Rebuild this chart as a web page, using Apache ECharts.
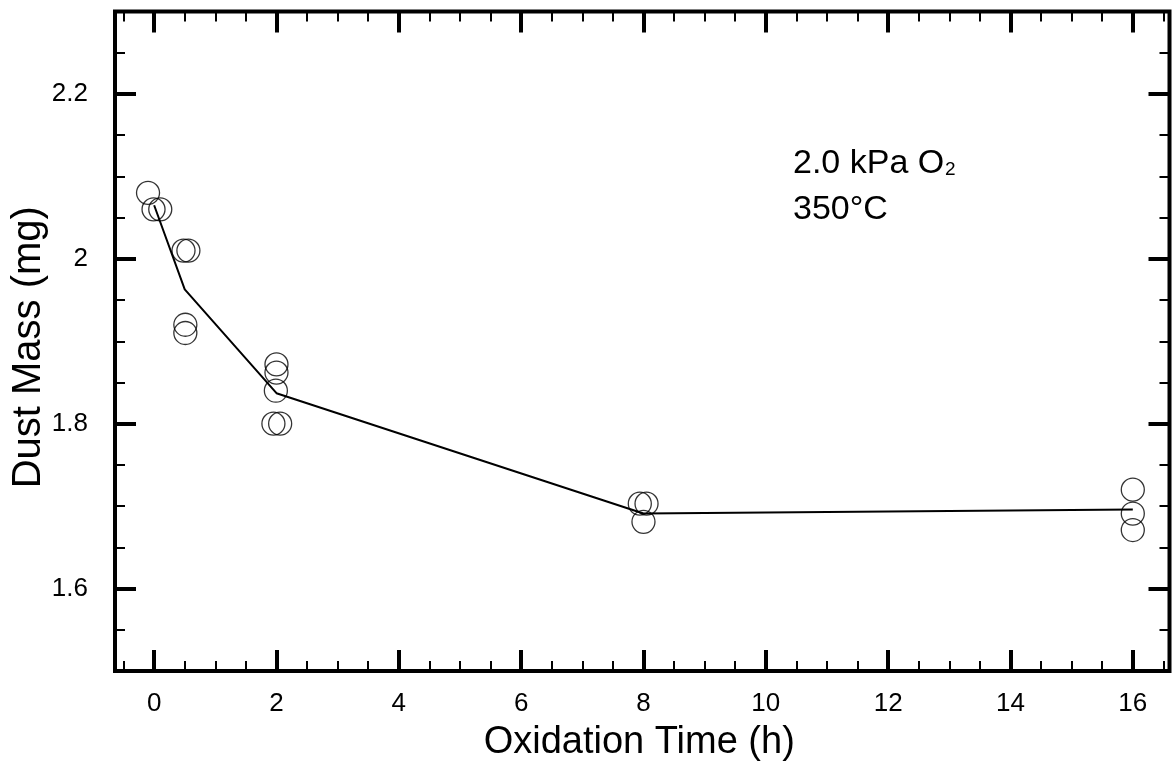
<!DOCTYPE html>
<html>
<head>
<meta charset="utf-8">
<script src="https://cdn.jsdelivr.net/npm/echarts@6/dist/echarts.min.js"></script>
<style>
  html, body { margin: 0; padding: 0; background: #fff; }
  #chart { width: 1172px; height: 773px; }
</style>
</head>
<body>
<div id="chart"></div>
<script>
// measured samples (time in h, small x offsets as plotted)
const sampleTimes = [-0.1, -0.01, 0.1, 0.48, 0.56, 0.51, 0.51, 2.0, 2.0, 1.99, 1.95, 2.06, 7.94, 8.05, 8.0, 16.0, 16.0, 16.0]
const sampleMass = [2.08, 2.06, 2.06, 2.01, 2.01, 1.92, 1.91, 1.872, 1.862, 1.84, 1.80, 1.80, 1.703, 1.703, 1.681, 1.72, 1.691, 1.671]

// fitted curve
const fitTimes = [0, 0.5, 2, 8, 16]
const fitMass = [2.065, 1.963, 1.837, 1.691, 1.696]

const xMajorTicks = [0, 2, 4, 6, 8, 10, 12, 14, 16]
const xMinorTicks = [-0.5, 0.5, 1, 1.5, 2.5, 3, 3.5, 4.5, 5, 5.5, 6.5, 7, 7.5, 8.5, 9, 9.5,
  10.5, 11, 11.5, 12.5, 13, 13.5, 14.5, 15, 15.5, 16.5]
const yMajorTicks = [1.6, 1.8, 2.0, 2.2]
const yMinorTicks = [1.55, 1.65, 1.7, 1.75, 1.85, 1.9, 1.95, 2.05, 2.1, 2.15, 2.25]

const FONT = 'Liberation Sans, Arial, Helvetica, sans-serif'
const X_MIN = -0.64, X_MAX = 16.6
const Y_MIN = 1.5, Y_MAX = 2.3

const chart = echarts.init(document.getElementById('chart'))

function axisDef(position, min, max, ticks, len, width, labelMargin) {
  return {
    type: 'value',
    position,
    offset: 0,
    min,
    max,
    axisLine: { show: false, onZero: false },
    splitLine: { show: false },
    axisTick: {
      show: true,
      inside: true,
      length: len,
      customValues: ticks,
      lineStyle: { color: '#000', width },
    },
    axisLabel: labelMargin != null
      ? { show: true, customValues: ticks, margin: labelMargin, color: '#000', fontSize: 26, fontFamily: FONT }
      : { show: false },
  }
}

const xAxes = [
  axisDef('bottom', X_MIN, X_MAX, xMajorTicks, 21, 4, 20),
  axisDef('bottom', X_MIN, X_MAX, xMinorTicks, 10, 2),
  axisDef('top', X_MIN, X_MAX, xMajorTicks, 21, 4),
  axisDef('top', X_MIN, X_MAX, xMinorTicks, 10, 2),
]
Object.assign(xAxes[0], {
  name: 'Oxidation Time (h)',
  nameLocation: 'middle',
  nameGap: 53,
  nameMoveOverlap: false,
  nameTextStyle: { color: '#000', fontSize: 38, fontFamily: FONT, padding: [0, 6, 0, 0] },
})

const yAxes = [
  axisDef('left', Y_MIN, Y_MAX, yMajorTicks, 21, 4, 27),
  axisDef('left', Y_MIN, Y_MAX, yMinorTicks, 10, 2),
  axisDef('right', Y_MIN, Y_MAX, yMajorTicks, 21, 4),
  axisDef('right', Y_MIN, Y_MAX, yMinorTicks, 10, 2),
]
Object.assign(yAxes[0], {
  name: 'Dust Mass (mg)',
  nameLocation: 'middle',
  nameGap: 66,
  nameMoveOverlap: false,
  nameTextStyle: { color: '#000', fontSize: 40, fontFamily: FONT, padding: [0, 12, 0, 0] },
})

chart.setOption({
  animation: false,
  backgroundColor: '#fff',
  grid: {
    left: 115, right: 2.5, top: 11.5, bottom: 102,
    outerBoundsMode: 'none',
    containLabel: false,
    show: true, borderColor: '#000', borderWidth: 4, backgroundColor: 'transparent',
  },
  xAxis: xAxes,
  yAxis: yAxes,
  graphic: [
    { type: 'text', x: 793, y: 164, style: { text: '2.0 kPa O', font: '34px ' + FONT, fill: '#000', verticalAlign: 'middle' } },
    { type: 'text', x: 945, y: 170, style: { text: '2', font: '19px ' + FONT, fill: '#000', verticalAlign: 'middle' } },
    { type: 'text', x: 793, y: 210, style: { text: '350°C', font: '34px ' + FONT, fill: '#000', verticalAlign: 'middle' } },
  ],
  series: [
    {
      type: 'line',
      xAxisIndex: 0,
      yAxisIndex: 0,
      data: fitTimes.map((t, i) => [t, fitMass[i]]),
      symbol: 'none',
      lineStyle: { color: '#000', width: 2 },
      z: 2,
    },
    {
      type: 'scatter',
      xAxisIndex: 0,
      yAxisIndex: 0,
      data: sampleTimes.map((t, i) => [t, sampleMass[i]]),
      symbol: 'circle',
      symbolSize: 23,
      itemStyle: { color: 'rgba(0,0,0,0)', borderColor: '#000', borderWidth: 1.3 },
      z: 3,
    },
  ],
})
</script>
</body>
</html>
